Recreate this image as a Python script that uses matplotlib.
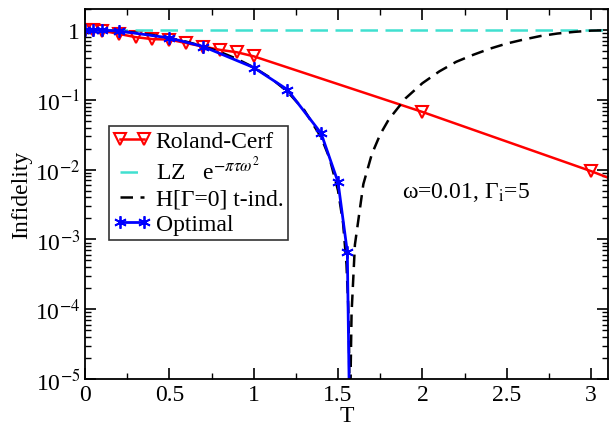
import math

import matplotlib
matplotlib.use("Agg")
import matplotlib.pyplot as plt
from matplotlib.ticker import FixedLocator, FuncFormatter, LogLocator, MultipleLocator

plt.rcParams["font.family"] = ["Liberation Serif", "DejaVu Serif"]
plt.rcParams["mathtext.fontset"] = "stix"

# Roland-Cerf schedule
rc_T = [0.0, 0.05, 0.1, 0.2, 0.3, 0.4, 0.5, 0.6, 0.7, 0.8, 0.9, 1.0, 2.0, 3.0, 3.2]
rc_inf = [1.0, 0.99, 0.98, 0.88, 0.79, 0.74, 0.73, 0.65, 0.58, 0.52, 0.48, 0.42, 0.067, 0.0095, 0.0062]
rc_marked = 14

# Landau-Zener estimate
lz_T = [0.0, 3.2]
lz_inf = [1.0, 1.0]

# time-independent H[Gamma=0]
h0_T = [0.0, 0.1, 0.2, 0.3, 0.4, 0.5, 0.6, 0.7, 0.8, 0.9, 1.0, 1.1, 1.2, 1.3, 1.4, 1.45,
        1.5, 1.53, 1.55, 1.56, 1.565, 1.5705, 1.5725, 1.575, 1.58, 1.6, 1.65, 1.7, 1.75,
        1.8, 1.9, 2.0, 2.1, 2.2, 2.3, 2.4, 2.5, 2.6, 2.7, 2.8, 2.9, 3.0, 3.2]
h0_inf = [1.0, 0.99, 0.96, 0.913, 0.848, 0.77, 0.681, 0.585, 0.485, 0.386, 0.292, 0.206,
          0.131, 0.071, 0.029, 0.0145, 0.005, 0.0017, 4.4e-4, 1.2e-4, 3.4e-5, 1e-6, 1e-6,
          1.4e-5, 8.6e-5, 8.4e-4, 0.0062, 0.0166, 0.032, 0.052, 0.105, 0.173, 0.255, 0.35,
          0.44, 0.54, 0.64, 0.73, 0.82, 0.89, 0.94, 0.98, 1.0]

# optimal schedule
opt_T = [0.0, 0.05, 0.1, 0.2, 0.5, 0.7, 1.0, 1.2, 1.4, 1.5, 1.555, 1.571]
opt_inf = [1.0, 1.0, 0.99, 0.97, 0.77, 0.58, 0.29, 0.14, 0.033, 0.0066, 6.6e-4, 1e-6]
opt_marked = 11

fig = plt.figure(figsize=(6.10, 4.27), dpi=100)
ax = fig.add_axes([0.1393, 0.110, 0.8574, 0.8666])

ax.plot(rc_T, rc_inf, color="#ff0000", lw=1.8, marker="v", ms=9, mfc="none",
        mec="#ff0000", mew=1.5, markevery=list(range(rc_marked)), label="Roland-Cerf")
ax.plot(lz_T, lz_inf, color="#40e0d0", lw=1.8, dashes=[7, 3],
        label=r"LZ   e$^{-\pi\tau\omega^2}$")
ax.plot(h0_T, h0_inf, color="black", lw=1.8, dashes=[5, 3], label="H[Γ=0] t-ind.")
ax.plot(opt_T, opt_inf, color="#0000ff", lw=2.0, marker=(6, 2, 0), ms=9, mew=1.3,
        markevery=list(range(opt_marked)), label="Optimal")

ax.set_yscale("log")
ax.set_xlim(0, 3.1)
ax.set_ylim(1e-5, 2.0)

ax.xaxis.set_major_locator(MultipleLocator(0.5))
ax.xaxis.set_minor_locator(MultipleLocator(0.25))
ax.xaxis.set_major_formatter(FuncFormatter(lambda v, p: f"{v:g}"))
ax.yaxis.set_major_locator(FixedLocator([1e-5, 1e-4, 1e-3, 1e-2, 1e-1, 1]))
ax.yaxis.set_minor_locator(LogLocator(base=10, subs=range(2, 10), numticks=20))
ax.yaxis.set_minor_formatter(FuncFormatter(lambda v, p: ""))


def ylab(v, p):
    if abs(v - 1) < 1e-9:
        return "1"
    e = int(round(math.log10(v)))
    return r"10$^{\mathrm{-%d}}$" % (-e)


ax.yaxis.set_major_formatter(FuncFormatter(ylab))
ax.tick_params(which="both", direction="in", top=True, right=True, labelsize=17)
ax.tick_params(which="major", length=8, width=1.2)
ax.tick_params(which="minor", length=4, width=1.0)
for s in ax.spines.values():
    s.set_linewidth(1.3)

ax.set_xlabel("T", fontsize=17, labelpad=0)
ax.set_ylabel("Infidelity", fontsize=17, labelpad=2)

ax.text(1.88, 4.9e-3, r"ω=0.01, Γ$_{\rm i}$=5", fontsize=17, va="center")

leg = ax.legend(loc="upper left", bbox_to_anchor=(0.045, 0.684), fontsize=17, frameon=True,
                fancybox=False, edgecolor="black", handlelength=1.6, handletextpad=0.2,
                labelspacing=0.15, borderpad=0.2, borderaxespad=0, numpoints=2)
leg.get_frame().set_linewidth(1.2)

fig.savefig("out.png", dpi=100)
